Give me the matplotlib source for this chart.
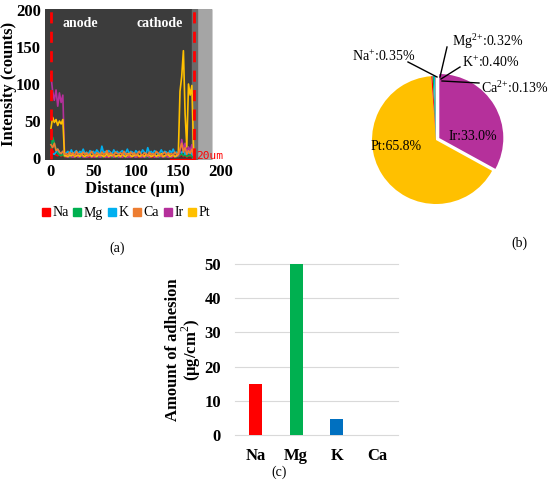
import numpy as np
import matplotlib
matplotlib.use("Agg")
import matplotlib.pyplot as plt
from matplotlib.patches import Rectangle
from matplotlib.lines import Line2D

plt.rcParams['font.family'] = ['Liberation Serif', 'DejaVu Serif']
plt.rcParams['mathtext.fontset'] = 'custom'
plt.rcParams['mathtext.rm'] = 'Liberation Serif'

# ---- (a) EDS line scan, one sample every 2 um from 0 to 168 um ----
step_um = 2
pt_left = [40, 55, 48, 52, 44, 50, 46, 52, 3]
pt_base = [3, 2, 4, 3, 5, 2, 3, 4, 2, 6, 3,
           2, 4, 3, 5, 2, 4, 3, 2, 5, 3, 4,
           2, 3, 6, 2, 4, 3, 5, 2, 3, 4, 2,
           5, 3, 2, 4, 6, 3, 2, 4, 3, 5, 2,
           3, 4, 2, 5, 3, 4, 2, 3, 5, 2, 4,
           3, 6, 2, 3, 4, 5, 2, 3, 4, 2, 3]
pt_right = [5, 90, 110, 145, 60, 15, 100, 85, 98, 10]

ir_left = [112, 90, 78, 92, 70, 88, 75, 85, 4]
ir_base = [2, 1, 3, 2, 1, 2, 4, 1, 2, 3, 1,
           2, 1, 2, 3, 1, 2, 1, 3, 2, 1, 2,
           3, 1, 2, 1, 2, 4, 1, 2, 3, 1, 2,
           1, 3, 2, 1, 2, 1, 3, 2, 1, 2, 3,
           1, 2, 1, 2, 3, 1, 2, 4, 1, 2, 1,
           3, 2, 1, 2, 3, 1, 2, 1, 3, 2, 2]
ir_right = [3, 8, 25, 12, 20, 6, 15, 10, 18, 3]

ca_left = [18, 14, 20, 10, 12, 8, 6, 9, 5]
ca_base = [6, 4, 8, 5, 7, 3, 9, 5, 6, 4, 8,
           5, 7, 4, 6, 9, 5, 3, 7, 6, 4, 8,
           5, 6, 10, 4, 7, 5, 3, 8, 6, 5, 7,
           4, 9, 5, 6, 3, 8, 5, 7, 4, 6, 9,
           5, 4, 7, 6, 3, 8, 5, 6, 4, 9, 7,
           5, 3, 6, 8, 4, 7, 5, 6, 4, 8, 5]
ca_right = [6, 12, 20, 8, 14, 5, 10, 6, 12, 4]

k_left = [4, 6, 5, 8, 12, 7, 6, 9, 6]
k_base = [7, 9, 5, 11, 6, 8, 10, 5, 9, 7, 12,
          6, 8, 5, 10, 7, 9, 6, 11, 8, 5, 16,
          7, 9, 6, 10, 8, 5, 11, 7, 9, 6, 8,
          10, 5, 7, 12, 6, 9, 8, 5, 10, 7, 9,
          6, 11, 8, 5, 14, 7, 9, 6, 10, 8, 5,
          7, 11, 6, 9, 8, 5, 10, 7, 12, 6, 8]
k_right = [6, 9, 7, 10, 5, 8, 6, 9, 5, 3]

mg_left = [8, 28, 20, 12, 6, 4, 3, 5, 2]
mg_base = [2, 3, 1, 2, 4, 1, 3, 2, 1, 2, 3,
           1, 2, 4, 2, 1, 3, 2, 1, 2, 3, 1,
           2, 1, 3, 2, 4, 1, 2, 3, 1, 2, 1,
           3, 2, 1, 2, 4, 1, 3, 2, 1, 2, 3,
           1, 2, 3, 1, 2, 1, 4, 2, 3, 1, 2,
           1, 3, 2, 1, 2, 3, 1, 2, 4, 1, 2]
mg_right = [2, 4, 6, 3, 5, 2, 3, 4, 2, 1]

na_left = [5, 10, 6, 4, 3, 5, 2, 4, 2]
na_base = [1, 2, 3, 1, 2, 1, 2, 3, 1, 4, 2,
           1, 3, 2, 1, 2, 1, 3, 2, 1, 2, 3,
           1, 2, 1, 4, 2, 1, 3, 2, 1, 2, 3,
           1, 2, 1, 3, 2, 1, 2, 4, 1, 2, 1,
           3, 2, 1, 2, 3, 1, 2, 1, 4, 2, 1,
           2, 3, 1, 2, 1, 2, 3, 1, 2, 1, 3]
na_right = [2, 3, 5, 2, 4, 1, 3, 2, 3, 1]

scan_names = ['Na', 'Mg', 'K', 'Ca', 'Ir', 'Pt']
scan_colors = ['#FF0000', '#00B050', '#00B0F0', '#ED7D31', '#B5309B', '#FFC000']
scan_values = {
    'Na': na_left + na_base + na_right,
    'Mg': mg_left + mg_base + mg_right,
    'K': k_left + k_base + k_right,
    'Ca': ca_left + ca_base + ca_right,
    'Ir': ir_left + ir_base + ir_right,
    'Pt': pt_left + pt_base + pt_right,
}
electrode_edges = [0, 168]

# ---- (b) composition pie ----
pie_names = ['Ir', 'Pt', 'Na', 'Mg', 'K', 'Ca']
pie_values = [33.0, 65.8, 0.35, 0.32, 0.40, 0.13]
pie_colors = ['#B5309B', '#FFC000', '#FF0000', '#00B050', '#00B0F0', '#ED7D31']

# ---- (c) adhesion amount ----
ions = ['Na', 'Mg', 'K', 'Ca']
adhesion = [15, 50, 4.8, 0]
bar_colors = ['#FF0000', '#00B050', '#0070C0', '#ED7D31']

W, H = 550, 484
fig = plt.figure(figsize=(W / 100, H / 100), dpi=100)


def box(left, top, right, bottom):
    return [left / W, 1 - bottom / H, (right - left) / W, (bottom - top) / H]


# ---------------- panel (a) ----------------
ax = fig.add_axes(box(45, 8.5, 225, 159.5))
ax.set_xlim(-7, 205)
ax.set_ylim(-2, 202)
ax.add_patch(Rectangle((-7, -2), 196, 204, color='#3c3c3c', zorder=0))
ax.add_patch(Rectangle((172, -2), 17, 204, color='#a5a5a5', zorder=0))
ax.add_patch(Rectangle((166, -2), 6, 204, color='#6a6a6a', zorder=0))

order = ['Na', 'Mg', 'K', 'Ir', 'Pt', 'Ca']
for name in order:
    vals = scan_values[name]
    xs = np.arange(len(vals)) * step_um
    ax.plot(xs, vals, color=scan_colors[scan_names.index(name)], lw=1.2, zorder=2)

for xe in electrode_edges:
    ax.plot([xe, xe], [-2, 202], color='#FF0000', lw=2, ls=(0, (4, 3)), zorder=3)

ax.text(35, 182, 'anode', color='white', fontsize=10, fontweight='bold',
        ha='center', va='center')
ax.text(128, 182, 'cathode', color='white', fontsize=10, fontweight='bold',
        ha='center', va='center')
ax.text(171, 3, '20um', color='#FF0000', fontsize=8, family='DejaVu Sans Mono',
        ha='left', va='center', zorder=4)
ax.plot([140, 170], [-1, -1], color='#FF0000', lw=1, zorder=4)

ax.set_xticks([0, 50, 100, 150, 200])
ax.set_yticks([0, 50, 100, 150, 200])
ax.tick_params(length=0, labelsize=12, pad=3)
for lab in ax.get_xticklabels() + ax.get_yticklabels():
    lab.set_fontweight('bold')
for sp in ax.spines.values():
    sp.set_visible(False)
ax.set_xlabel('Distance (μm)', fontsize=12, fontweight='bold', labelpad=1)
ax.set_ylabel('Intensity (counts)', fontsize=12, fontweight='bold', labelpad=-1)

handles = [Line2D([], [], ls='none', marker='s', markersize=5.5, color=c)
           for c in scan_colors]
fig.legend(handles, scan_names, loc='center', bbox_to_anchor=(126 / W, 1 - 213 / H),
           ncol=6, frameon=False, fontsize=10, handlelength=0.6,
           handletextpad=0.15, columnspacing=0.35, borderaxespad=0)
fig.text(117 / W, 1 - 248 / H, '(a)', ha='center', va='center', fontsize=10)

# ---------------- panel (b) ----------------
r_px = 64
cx, cy = 436, 140
axp = fig.add_axes(box(cx - 1.25 * r_px, cy - 1.25 * r_px, cx + 1.25 * r_px, cy + 1.25 * r_px))
axp.pie(pie_values, colors=pie_colors, startangle=90, counterclock=False,
        explode=[0.06, 0, 0, 0, 0, 0], wedgeprops=dict(linewidth=0))
axp.set_xlim(-1.25, 1.25)
axp.set_ylim(-1.25, 1.25)
axp.set_aspect('equal')
axp.axis('off')

def pxy(px, py):
    return (px - cx) / r_px, (cy - py) / r_px

small = [
    ('Na$^{+}$:0.35%', (415, 56), 'right', (408, 62), (437, 77)),
    ('Mg$^{2{+}}$:0.32%', (452, 41), 'left', (447, 47), (440, 77)),
    ('K$^{+}$:0.40%', (462, 62), 'left', (460, 67), (441, 79)),
    ('Ca$^{2{+}}$:0.13%', (481, 88), 'left', (442, 81), (479, 83)),
]
for txt, tpos, ha, p0, p1 in small:
    tx, ty = pxy(*tpos)
    axp.text(tx, ty, txt, ha=ha, va='center', fontsize=10, clip_on=False)
    x0, y0 = pxy(*p0)
    x1, y1 = pxy(*p1)
    axp.plot([x0, x1], [y0, y1], color='black', lw=1, clip_on=False)

tx, ty = pxy(473, 137)
axp.text(tx, ty, 'Ir:%.1f%%' % pie_values[0], ha='center', va='center', fontsize=10)
tx, ty = pxy(396, 147)
axp.text(tx, ty, 'Pt:%.1f%%' % pie_values[1], ha='center', va='center', fontsize=10)
fig.text(519 / W, 1 - 243 / H, '(b)', ha='center', va='center', fontsize=10)

# ---------------- panel (c) ----------------
axc = fig.add_axes(box(235, 264, 398, 435))
pos = np.arange(len(ions))
axc.bar(pos, adhesion, width=0.32, color=bar_colors, zorder=2)
axc.set_xlim(-0.5, len(ions) - 0.5)
axc.set_ylim(0, 50)
axc.set_yticks([0, 10, 20, 30, 40, 50])
axc.set_xticks(pos)
axc.set_xticklabels(ions)
axc.grid(axis='y', color='#D9D9D9', lw=0.8, zorder=0)
for line in axc.get_ygridlines():
    line.set_clip_on(False)
for sp in axc.spines.values():
    sp.set_visible(False)
axc.tick_params(length=0, labelsize=12)
axc.tick_params(axis='y', pad=10)
axc.tick_params(axis='x', pad=9)
for lab in axc.get_xticklabels() + axc.get_yticklabels():
    lab.set_fontweight('bold')
axc.set_ylabel('Amount of adhesion\n(μg/cm$^{2}$)', fontsize=12, fontweight='bold',
               labelpad=1, linespacing=0.95)
fig.text(279 / W, 1 - 472 / H, '(c)', ha='center', va='center', fontsize=10)

fig.savefig('out.png', dpi=100)
